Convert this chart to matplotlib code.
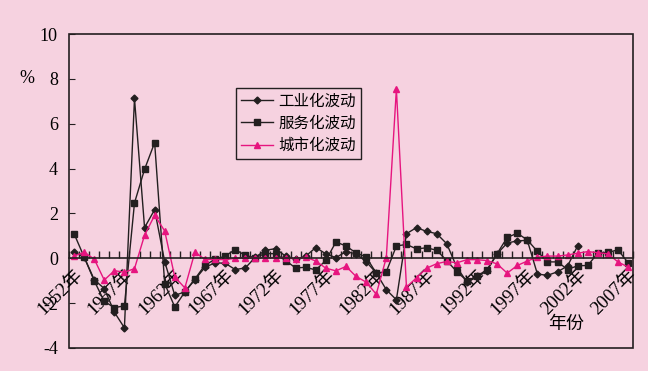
import matplotlib
matplotlib.use('Agg')
from matplotlib import pyplot as plt
from matplotlib.patches import Rectangle
from matplotlib.transforms import ScaledTranslation

plt.rcParams['font.family'] = ['Liberation Serif', 'Noto Sans CJK SC', 'DejaVu Sans']

years = list(range(1952, 2008))

# 工业化波动 (series ends in 2002)
industry = [0.28, 0.06, -0.95, -1.35, -2.4, -3.1, 7.13, 1.37, 2.17, -0.15,
            -1.65, -1.5, -0.95, -0.4, -0.2, -0.22, -0.5, -0.43, 0.05, 0.36,
            0.43, 0.1, -0.05, 0.1, 0.48, 0.2, 0.03, 0.3, 0.2, -0.15,
            -0.65, -1.4, -1.85, 1.1, 1.37, 1.2, 1.1, 0.65, -0.4, -1.05,
            -0.85, -0.55, 0.2, 0.68, 0.78, 0.8, -0.7, -0.76, -0.6, -0.34,
            0.56]

# 服务化波动
service = [1.1, 0.06, -1.0, -1.92, -2.2, -2.12, 2.47, 3.97, 5.16, -1.13,
           -2.17, -1.5, -0.92, -0.3, -0.05, 0.1, 0.39, 0.13, 0.03, 0.22,
           0.2, -0.1, -0.43, -0.4, -0.52, -0.09, 0.73, 0.55, 0.24, 0.06,
           -0.66, -0.6, 0.55, 0.62, 0.42, 0.47, 0.36, -0.1, -0.6, -1.0,
           -0.8, -0.5, 0.21, 0.93, 1.12, 0.82, 0.31, -0.16, -0.16, -0.5,
           -0.33, -0.32, 0.24, 0.26, 0.38, -0.2]

# 城市化波动
urban = [0.1, 0.27, -0.03, -0.97, -0.55, -0.62, -0.46, 1.03, 1.92, 1.22,
         -0.83, -1.32, 0.28, -0.05, -0.05, -0.06, 0.0, 0.03, 0.03, 0.03,
         0.03, 0.03, -0.03, 0.05, -0.12, -0.44, -0.56, -0.36, -0.81, -1.06,
         -1.6, 0.03, 7.55, -1.28, -0.87, -0.44, -0.24, -0.14, -0.2, -0.06,
         -0.06, -0.1, -0.25, -0.66, -0.32, -0.12, 0.05, 0.1, 0.1, 0.15,
         0.23, 0.3, 0.25, 0.2, -0.16, -0.39]

bg = '#F6D2E0'
dark = '#231F20'
pink = '#E6157F'

fig = plt.figure(figsize=(6.48, 3.71), dpi=100, facecolor=bg)
ax = fig.add_axes([0.1065, 0.062, 0.8705, 0.846], facecolor=bg)

idx = list(range(len(years)))
ax.plot(idx[:len(industry)], industry, color=dark, lw=1.0, marker='D', ms=3.5,
        label='工业化波动')
ax.plot(idx, service, color=dark, lw=1.0, marker='s', ms=3.8,
        label='服务化波动')
ax.plot(idx, urban, color=pink, lw=1.0, marker='^', ms=5,
        label='城市化波动')

ax.set_xlim(-0.5, len(years) - 0.5)
ax.set_ylim(-4, 10)

# x axis sits on the zero line
for s in ['top', 'right', 'left']:
    ax.spines[s].set_visible(False)
ax.spines['bottom'].set_position(('data', 0))
ax.spines['bottom'].set_linewidth(1.2)
ax.spines['bottom'].set_color(dark)
ax.add_patch(Rectangle((0, 0), 1, 1, transform=ax.transAxes, fill=False,
                       edgecolor=dark, lw=1.2, clip_on=False))

label_pos = idx[::5]
ax.set_xticks(label_pos)
ax.set_xticklabels([f'{years[i]}年' for i in label_pos], rotation=45,
                   ha='right', va='top', rotation_mode='anchor', fontsize=13.5)
shift = ScaledTranslation(7 / 100, -4 / 100, fig.dpi_scale_trans)
for lbl in ax.get_xticklabels():
    lbl.set_transform(lbl.get_transform() + shift)
ax.set_xticks([i - 0.5 for i in range(len(years) + 1)], minor=True)
ax.tick_params(axis='x', which='major', length=0, pad=6)
ax.tick_params(axis='x', which='minor', direction='in', length=5,
               width=1, color=dark)

ax.set_yticks(range(-4, 11, 2))
ax.set_yticklabels([str(v) for v in range(-4, 11, 2)], fontsize=13)
ax.tick_params(axis='y', direction='in', length=4, color=dark, pad=8)

ax.text(-0.075, 8, '%', transform=ax.get_yaxis_transform(), ha='center',
        va='center', fontsize=13)
ax.text(0.881, 0.076, '年份', transform=ax.transAxes, ha='center',
        va='center', fontsize=13)

leg = ax.legend(loc='upper left', bbox_to_anchor=(0.296, 0.828), fontsize=11.2,
                frameon=True, fancybox=False, edgecolor=dark, facecolor=bg,
                framealpha=1, handlelength=2.0, borderpad=0.35,
                borderaxespad=0, labelspacing=0.4, handletextpad=0.35)
leg.get_frame().set_linewidth(1.0)

fig.savefig('out.png', dpi=100, facecolor=bg)
